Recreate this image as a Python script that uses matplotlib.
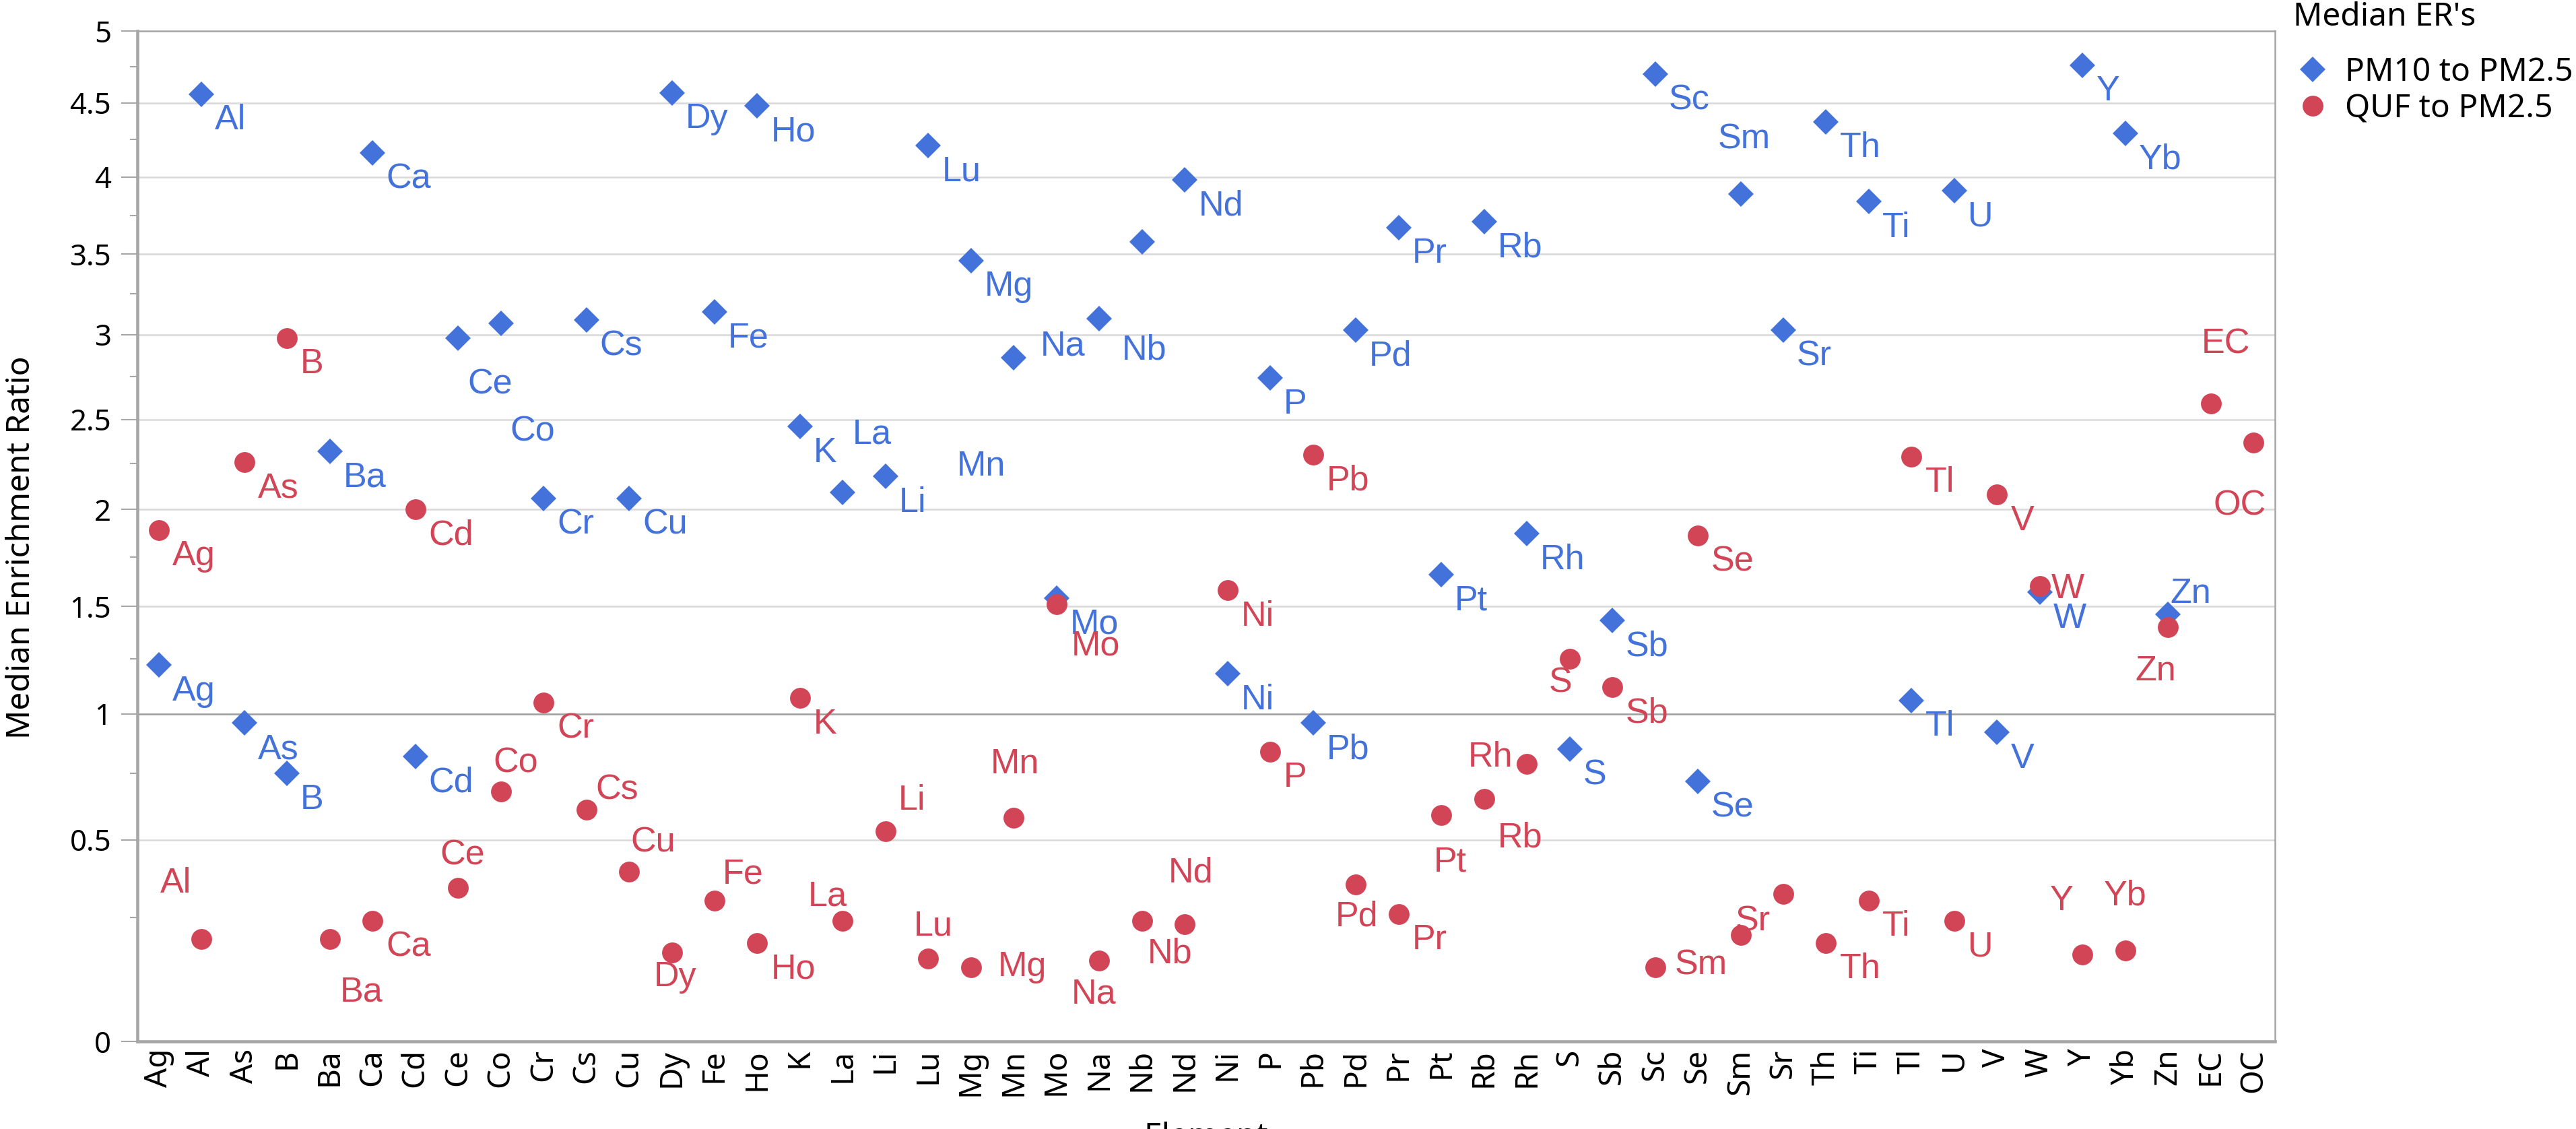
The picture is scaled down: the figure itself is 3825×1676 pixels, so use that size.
import numpy as np
import matplotlib.pyplot as plt
from matplotlib.lines import Line2D
from matplotlib.font_manager import FontProperties

plt.rcParams['font.family'] = ['Noto Sans', 'DejaVu Sans']

elements = ["Ag", "Al", "As", "B", "Ba", "Ca", "Cd", "Ce", "Co", "Cr", "Cs", "Cu",
            "Dy", "Fe", "Ho", "K", "La", "Li", "Lu", "Mg", "Mn", "Mo", "Na", "Nb",
            "Nd", "Ni", "P", "Pb", "Pd", "Pr", "Pt", "Rb", "Rh", "S", "Sb", "Sc",
            "Se", "Sm", "Sr", "Th", "Ti", "Tl", "U", "V", "W", "Y", "Yb", "Zn",
            "EC", "OC"]

# median enrichment ratio, PM10 to PM2.5
pm10_er = [1.22, 4.56, 0.96, 0.75, 2.32, 4.16, 0.82, 2.98, 3.07, 2.06, 3.09, 2.06,
           4.57, 3.14, 4.48, 2.46, 2.09, 2.18, 4.21, 3.46, 2.86, 1.54, 3.10, 3.58,
           3.98, 1.18, 2.74, 0.96, 3.03, 3.67, 1.66, 3.71, 1.87, 0.85, 1.43, 4.70,
           0.72, 3.89, 3.03, 4.37, 3.84, 1.06, 3.91, 0.92, 1.57, 4.76, 4.29, 1.46,
           np.nan, np.nan]

# median enrichment ratio, QUF to PM2.5
quf_er = [1.89, 0.19, 2.26, 2.98, 0.19, 0.24, 2.00, 0.34, 0.68, 1.05, 0.61, 0.39,
          0.155, 0.30, 0.18, 1.07, 0.24, 0.53, 0.14, 0.12, 0.58, 1.51, 0.135, 0.24,
          0.23, 1.58, 0.84, 2.30, 0.35, 0.26, 0.59, 0.65, 0.79, 1.25, 1.12, 0.12,
          1.86, 0.20, 0.32, 0.18, 0.30, 2.29, 0.24, 2.08, 1.60, 0.15, 0.16, 1.40,
          2.59, 2.37]

blue = "#4472DB"
red = "#D14557"

# label placement (pixels at 300 dpi: dx to text edge, dy down to text centre)
default_off = ("left", 20, 39)
pm10_off = {
    "Ce": ("left", 14, 69), "Co": ("left", 14, 161), "Na": ("right", -21, 41),
    "Nb": ("left", -30, 161), "Mn": ("left", -85, 161), "La": ("left", 14, -86),
    "Sm": ("left", -34, -81), "Zn": ("left", 3, -31),
}
quf_off = {
    "Co": ("left", -11, -42), "Cs": ("left", 14, -29), "Cu": ("left", 2, -43),
    "Ce": ("left", -27, -48), "Al": ("left", -61, -82), "Ba": ("left", 15, 79),
    "Dy": ("left", -27, 36), "Mo": ("left", 22, 62), "Mn": ("left", -35, -79),
    "Li": ("left", 19, -46), "Fe": ("left", 12, -39), "La": ("left", -52, -36),
    "Lu": ("left", -22, -48), "Mg": ("left", 40, 0), "Na": ("left", -42, 50),
    "Nb": ("left", 8, 49), "Nd": ("left", -25, -76), "Pd": ("left", -30, 48),
    "Pt": ("left", -11, 70), "Rb": ("left", 20, 58), "Rh": ("right", -21, -9),
    "S": ("left", -31, 36), "Sm": ("right", -20, 45), "Sr": ("right", -19, 41),
    "W": ("left", 17, 4), "Y": ("left", -49, -80), "Yb": ("left", -32, -81),
    "Zn": ("left", -49, 66), "EC": ("left", -14, -89), "OC": ("left", -60, 94),
}
quf_hidden = {"Sc"}


def fwd(y):
    y = np.asarray(y, dtype=float)
    return np.sign(y) * np.abs(y) ** 0.7


def inv(y):
    y = np.asarray(y, dtype=float)
    return np.sign(y) * np.abs(y) ** (1 / 0.7)


fig = plt.figure(figsize=(12.75, 5.5867), dpi=300)
ax = fig.add_axes([204 / 3825, 130 / 1676, 3174 / 3825, 1500 / 1676])

x = np.arange(len(elements))
ax.plot(x, pm10_er, ls="none", marker="D", ms=6.4, color=blue, mec="none", zorder=3)
ax.plot(x, quf_er, ls="none", marker="o", ms=7.4, color=red, mec="none", zorder=4)


def add_labels(values, offsets, color, hidden=()):
    px = 72 / 300
    for i, (name, v) in enumerate(zip(elements, values)):
        if np.isnan(v) or name in hidden:
            continue
        ha, dx, dy = offsets.get(name, default_off)
        ax.annotate(name, (i, v), xytext=(dx * px, -dy * px), textcoords="offset points",
                    ha=ha, va="center", color=color, fontsize=12.5,
                    family=["Liberation Sans", "DejaVu Sans"], zorder=5)


add_labels(pm10_er, pm10_off, blue)
add_labels(quf_er, quf_off, red, quf_hidden)

ax.set_yscale("function", functions=(fwd, inv))
ax.set_ylim(0, 5)
ax.set_xlim(-0.5, len(elements) - 0.5)
ax.set_yticks(np.arange(0, 5.01, 0.5))
ax.set_yticklabels([f"{t:g}" for t in np.arange(0, 5.01, 0.5)])
ax.set_yticks(np.arange(0.25, 5, 0.5), minor=True)
ax.set_xticks(x)
ax.set_xticklabels(elements, rotation=90)

ax.set_axisbelow(True)
ax.grid(axis="y", which="major", color="#D9D9D9", lw=0.6)
ax.axhline(1, color="#A0A0A0", lw=0.6, zorder=1)

for side in ["top", "right"]:
    ax.spines[side].set_color("#A6A6A6")
    ax.spines[side].set_linewidth(0.6)
for side in ["left", "bottom"]:
    ax.spines[side].set_color("#A6A6A6")
    ax.spines[side].set_linewidth(1.1)

ax.tick_params(axis="y", which="major", length=5.8, width=0.5, color="#A6A6A6",
               pad=3.5, labelsize=10.5)
ax.tick_params(axis="y", which="minor", length=2.6, width=0.5, color="#A6A6A6")
ax.tick_params(axis="x", length=0, pad=2.6, labelsize=11)

ax.set_ylabel("Median Enrichment Ratio", fontsize=11.5)
ax.yaxis.set_label_coords(-0.047, 0.489)
ax.set_xlabel("Element", fontsize=11.5)
ax.xaxis.set_label_coords(0.5, -0.079)

handles = [Line2D([], [], ls="none", marker="D", ms=6.4, color=blue, mec="none"),
           Line2D([], [], ls="none", marker="o", ms=7.4, color=red, mec="none")]
fig.legend(handles, ["PM10 to PM2.5", "QUF to PM2.5"],
           loc="upper left", bbox_to_anchor=(3410 / 3825, 1 - 84 / 1676), frameon=False,
           prop=FontProperties(family="Noto Sans", size=11.5),
           handlelength=1.0, handletextpad=0.5,
           borderpad=0, borderaxespad=0, labelspacing=0.15)
fig.text(3405 / 3825, 1 - 38 / 1676, "Median ER's", va="baseline", ha="left",
         fontsize=11.5, fontweight="bold")

fig.savefig("out.png", dpi=300)
